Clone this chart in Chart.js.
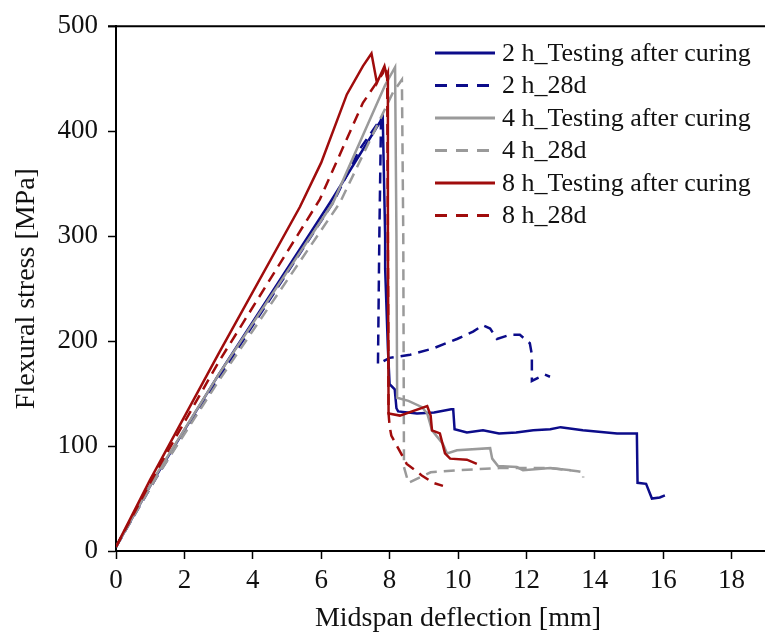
<!DOCTYPE html>
<html>
<head>
<meta charset="utf-8">
<script src="https://cdn.jsdelivr.net/npm/chart.js@4.4.1/dist/chart.umd.min.js"></script>
<style>
    html, body { margin: 0; padding: 0; background: #fff; overflow: hidden; }
    #wrap { width: 765px; height: 635px; overflow: hidden; }
</style>
</head>
<body>
<div id="wrap"><canvas id="chart" width="810" height="635"></canvas></div>
<script>
// 數據 (x = 撓度 mm, y = 應力 MPa)
const seriesNames = [
    '2 h_Testing after curing', '2 h_28d',
    '4 h_Testing after curing', '4 h_28d',
    '8 h_Testing after curing', '8 h_28d'
];

const blueSolid = [
    [0, 4], [1, 62], [1.2, 73], [3, 168], [6.26, 332], [7.8, 413], [7.87, 300], [7.87, 269],
    [7.95, 193], [8.0, 159], [8.15, 154], [8.2, 136], [8.25, 133], [8.8, 131], [9.3, 132],
    [9.8, 135], [9.86, 135], [9.9, 116], [10.26, 113], [10.73, 115], [11.2, 112], [11.7, 113],
    [12.2, 115], [12.7, 116], [13.0, 118], [13.65, 115], [14.65, 112], [15.23, 112],
    [15.25, 65], [15.5, 64], [15.67, 50], [15.9, 51], [16.05, 53]
];
const blueDashed = [
    [0, 4], [1, 60], [1.2, 71], [3, 165], [6.35, 332], [7.13, 383], [7.75, 412], [7.7, 300],
    [7.66, 178], [8.0, 184], [8.6, 187], [9.27, 193], [9.97, 202], [10.44, 209], [10.73, 215],
    [10.94, 212], [11.14, 202], [11.52, 206], [11.81, 206], [12.1, 198], [12.16, 187],
    [12.16, 162], [12.34, 165], [12.54, 168], [12.69, 166]
];
const graySolid = [
    [0, 4], [1, 62], [1.2, 74], [3, 168], [6.35, 332], [7.87, 444], [8.16, 461], [8.2, 300],
    [8.22, 146], [8.55, 143], [8.95, 137], [9.1, 131], [9.24, 115], [9.56, 102], [9.68, 93],
    [9.97, 96], [10.94, 98], [11.0, 88], [11.17, 81], [11.72, 80], [11.9, 77], [12.7, 79],
    [13.3, 77]
];
const grayDashed = [
    [0, 4], [1, 60], [1.2, 71], [3, 162], [6.55, 332], [8.1, 437], [8.36, 449], [8.4, 300],
    [8.42, 80], [8.55, 65], [9.2, 75], [10.06, 77], [11.2, 79], [12.7, 79], [13.5, 76],
    [13.66, 75], [13.66, 70]
];
const redSolid = [
    [0, 4], [1, 68], [1.2, 80], [3, 188], [5.38, 328], [6.0, 370], [6.75, 435], [7.22, 462],
    [7.47, 474], [7.63, 446], [7.85, 462], [7.92, 452], [7.95, 455], [7.95, 300], [7.97, 131],
    [8.3, 129], [9.1, 138], [9.2, 129], [9.24, 115], [9.47, 112], [9.62, 93], [9.77, 88],
    [10.26, 87], [10.55, 83]
];
const redDashed = [
    [0, 4], [1, 65], [1.2, 77], [3, 180], [5.96, 335], [7.22, 427], [7.8, 455], [7.88, 463],
    [7.93, 450], [7.95, 300], [7.97, 131], [8.0, 119], [8.05, 110], [8.5, 83], [8.94, 72],
    [9.27, 65], [9.56, 62]
];

const seriesData = [blueSolid, blueDashed, graySolid, grayDashed, redSolid, redDashed];
const seriesColors = ['#0c0c8a', '#0c0c8a', '#9a9a9a', '#9a9a9a', '#a00c0c', '#a00c0c'];
const seriesDashed = [false, true, false, true, false, true];

const xTicks = [0, 2, 4, 6, 8, 10, 12, 14, 16, 18];
const yTicks = [0, 100, 200, 300, 400, 500];

const serif = "'Liberation Serif', 'DejaVu Serif', serif";

// 圖例 + 上框線
const boxPlugin = {
    id: 'boxPlugin',
    afterDraw(chart) {
        const ctx = chart.ctx;
        const area = chart.chartArea;
        ctx.save();
        // 上框線
        ctx.strokeStyle = '#000';
        ctx.lineWidth = 2;
        ctx.beginPath();
        ctx.moveTo(area.left - 8, area.top);
        ctx.lineTo(area.right, area.top);
        ctx.stroke();
        // 圖例
        const lx = area.left + 319;
        ctx.font = `26px ${serif}`;
        ctx.textBaseline = 'middle';
        ctx.fillStyle = '#111';
        seriesNames.forEach((name, i) => {
            const y = 53 + i * 32.5;
            ctx.strokeStyle = seriesColors[i];
            ctx.lineWidth = 3;
            ctx.setLineDash(seriesDashed[i] ? [12, 9] : []);
            ctx.beginPath();
            ctx.moveTo(lx, y);
            ctx.lineTo(lx + 60, y);
            ctx.stroke();
            ctx.setLineDash([]);
            ctx.fillText(name, lx + 67, y + 1);
        });
        ctx.restore();
    }
};

const ctx = document.getElementById('chart').getContext('2d');
new Chart(ctx, {
    type: 'line',
    data: {
        datasets: seriesData.map((pts, i) => ({
            label: seriesNames[i],
            data: pts.map(p => ({ x: p[0], y: p[1] })),
            borderColor: seriesColors[i],
            borderWidth: 2.5,
            borderDash: seriesDashed[i] ? [11, 7] : [],
            pointRadius: 0,
            tension: 0,
            fill: false,
            order: 6 - i
        }))
    },
    options: {
        responsive: false,
        animation: false,
        layout: { padding: { top: 23, right: 10, left: 0, bottom: 0 } },
        plugins: {
            legend: { display: false },
            tooltip: { enabled: false }
        },
        scales: {
            x: {
                type: 'linear',
                min: 0,
                max: 20,
                afterBuildTicks: axis => { axis.ticks = xTicks.concat([20]).map(v => ({ value: v })); },
                afterFit: scale => { scale.height = 84; },
                grid: { drawOnChartArea: false, color: '#000', tickLength: 8, tickWidth: 1.5 },
                border: { color: '#000', width: 2 },
                ticks: {
                    color: '#111',
                    padding: 6,
                    maxRotation: 0,
                    font: { family: serif, size: 27 },
                    callback: v => (v > 18 ? '' : v)
                },
                title: {
                    display: true,
                    text: 'Midspan deflection [mm]',
                    color: '#111',
                    font: { family: serif, size: 28 },
                    padding: { top: 2, bottom: 0 }
                }
            },
            y: {
                min: 0,
                max: 500,
                afterBuildTicks: axis => { axis.ticks = yTicks.map(v => ({ value: v })); },
                afterFit: scale => { scale.width = 116; },
                grid: { drawOnChartArea: false, color: '#000', tickLength: 8, tickWidth: 1.5 },
                border: { color: '#000', width: 2 },
                ticks: {
                    color: '#111',
                    padding: 10,
                    font: { family: serif, size: 27 }
                },
                title: {
                    display: true,
                    text: 'Flexural stress [MPa]',
                    color: '#111',
                    font: { family: serif, size: 28 },
                    padding: { top: 10, bottom: 0 }
                }
            }
        }
    },
    plugins: [boxPlugin]
});
</script>
</body>
</html>
